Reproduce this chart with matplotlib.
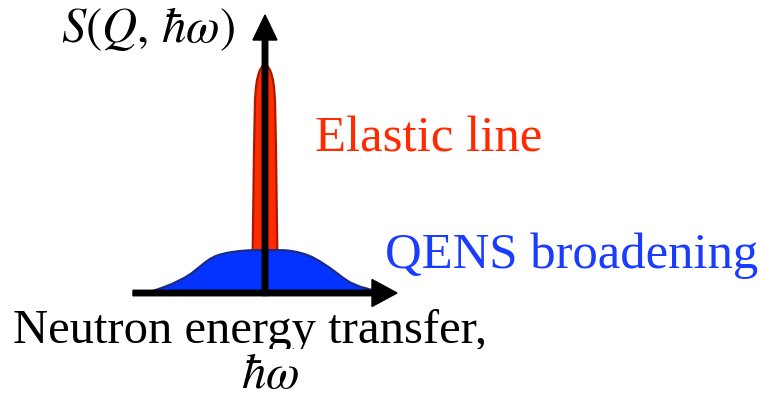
import numpy as np
import matplotlib
matplotlib.use("Agg")
import matplotlib.pyplot as plt
from matplotlib.patches import FancyArrow, Rectangle

plt.rcParams["mathtext.fontset"] = "stix"
plt.rcParams["font.family"] = ["Liberation Serif", "DejaVu Serif"]

# Schematic spectrum: energy transfer (relative to elastic position) vs intensity
qens_omega = [-115, -112, -105, -100, -93, -87, -80, -73, -65, -60, -55, -50, -45,
              -38, -32, -24, -15, 0, 20, 27, 33, 40, 47, 55, 60, 65, 70, 78, 85,
              95, 102, 108, 113]
qens_intensity = [0, 2, 4.5, 6.3, 9, 12, 15.5, 20, 26.5, 30.5, 34, 36.6, 38.4,
                  40.1, 41.1, 42.1, 42.7, 43, 42.7, 41.9, 40.7, 38.8, 36, 31.6,
                  28.3, 25, 21.3, 15.2, 10.6, 6.3, 4.4, 2.6, 0]

elastic_omega = [-12.5, -12.3, -11, -10, -9, -8, -6.5, -5, -2.5, 0,
                 2.5, 5, 6.5, 8, 9, 10, 11, 12.3, 12.5]
elastic_intensity = [0, 43, 143, 193, 206, 213, 219, 223, 227, 228,
                     227, 223, 219, 213, 206, 193, 143, 43, 0]

W, H = 763, 398
fig = plt.figure(figsize=(W / 100, H / 100), dpi=100)
ax = fig.add_axes([0, 0, 1, 1])
ax.set_xlim(0, W)
ax.set_ylim(H, 0)
ax.axis("off")

# origin of the energy axis on the canvas
x0, y0 = 265, 293

ex = x0 + np.asarray(elastic_omega)
ey = y0 - np.asarray(elastic_intensity)
ax.fill(ex, ey, facecolor="#ff2a00", edgecolor="#a81a00", lw=1.6, zorder=2)

qx = x0 + np.asarray(qens_omega)
qy = y0 - np.asarray(qens_intensity)
ax.fill(qx, qy, facecolor="#0433ff", edgecolor="#1a2a8a", lw=1.6, zorder=3)

# axes arrows
ax.add_patch(FancyArrow(133, y0, 264, 0, width=5.5, head_width=27, head_length=25,
                        length_includes_head=True, color="black", zorder=5))
ax.add_patch(FancyArrow(x0, y0 + 2.5, 0, -(y0 + 2.5 - 15), width=5.5, head_width=24,
                        head_length=25, length_includes_head=True, color="black", zorder=5))

ax.text(148, 42, r"$S(Q,\,\hbar\omega)$", fontsize=35, ha="center", va="baseline",
        color="black", zorder=6)
ax.text(315, 152, "Elastic line", fontsize=36.5, ha="left", va="baseline",
        color="#ff2a00", zorder=6)
ax.text(385, 268, "QENS broadening", fontsize=36.5, ha="left", va="baseline",
        color="#1a3cff", zorder=6)

ax.text(13, 343, "Neutron energy transfer,", fontsize=35, ha="left", va="baseline",
        color="black", zorder=6)
ax.add_patch(Rectangle((0, 349), W, H - 349, facecolor="white", edgecolor="none", zorder=7))
ax.text(270, 388, r"$\hbar\omega$", fontsize=35, ha="center", va="baseline",
        color="black", zorder=8)

fig.savefig("out.png", dpi=100)
